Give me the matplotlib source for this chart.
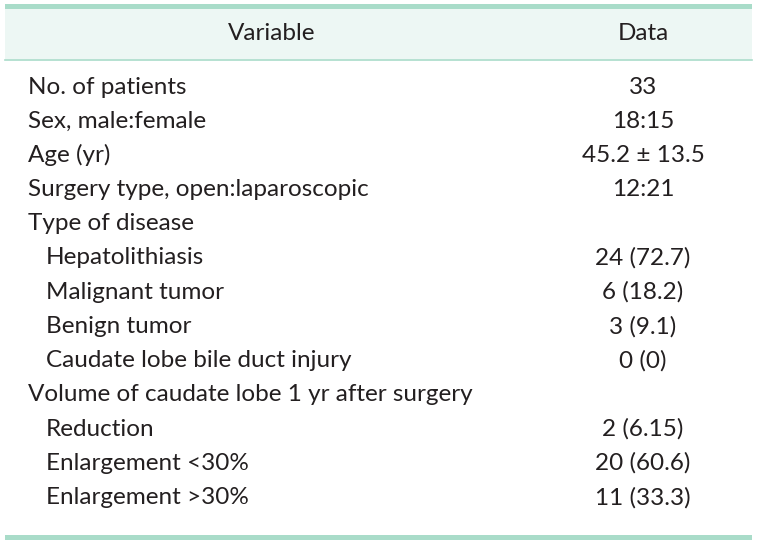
import matplotlib.pyplot as plt
from matplotlib.patches import Rectangle

# table content
header = ["Variable", "Data"]
variables = ["No. of patients", "Sex, male:female", "Age (yr)",
             "Surgery type, open:laparoscopic", "Type of disease",
             "Hepatolithiasis", "Malignant tumor", "Benign tumor",
             "Caudate lobe bile duct injury",
             "Volume of caudate lobe 1 yr after surgery",
             "Reduction", "Enlargement <30%", "Enlargement >30%"]
values = ["33", "18:15", "45.2 \u00b1 13.5", "12:21", "",
          "24 (72.7)", "6 (18.2)", "3 (9.1)", "0 (0)", "",
          "2 (6.15)", "20 (60.6)", "11 (33.3)"]
indented = [False, False, False, False, False,
            True, True, True, True, False,
            True, True, True]

W, H = 758, 544
fig = plt.figure(figsize=(W / 100, H / 100), dpi=100)
ax = fig.add_axes([0, 0, 1, 1])
ax.set_xlim(0, W)
ax.set_ylim(H, 0)
ax.axis("off")

green = "#a9dcc9"
font = dict(family="Lato", fontsize=17.5, color="#231f20")

# header band
ax.add_patch(Rectangle((5, 8), 747, 51, facecolor="#edf7f4", edgecolor="none"))
ax.add_patch(Rectangle((5, 4), 747, 4.5, facecolor=green, edgecolor="none"))
ax.plot([5, 752], [59.5, 59.5], color=green, lw=1.2)
ax.add_patch(Rectangle((5, 535), 747, 5, facecolor=green, edgecolor="none"))

ax.text(272, 33, header[0], ha="center", va="center", **font)
ax.text(643, 33, header[1], ha="center", va="center", **font)

# rows
y0, dy = 87, 34.2
for i, (v, d, ind) in enumerate(zip(variables, values, indented)):
    y = y0 + i * dy
    ax.text(46 if ind else 28, y, v, ha="left", va="center", **font)
    if d:
        ax.text(643, y, d, ha="center", va="center", **font)

fig.savefig("out.png", dpi=100)
